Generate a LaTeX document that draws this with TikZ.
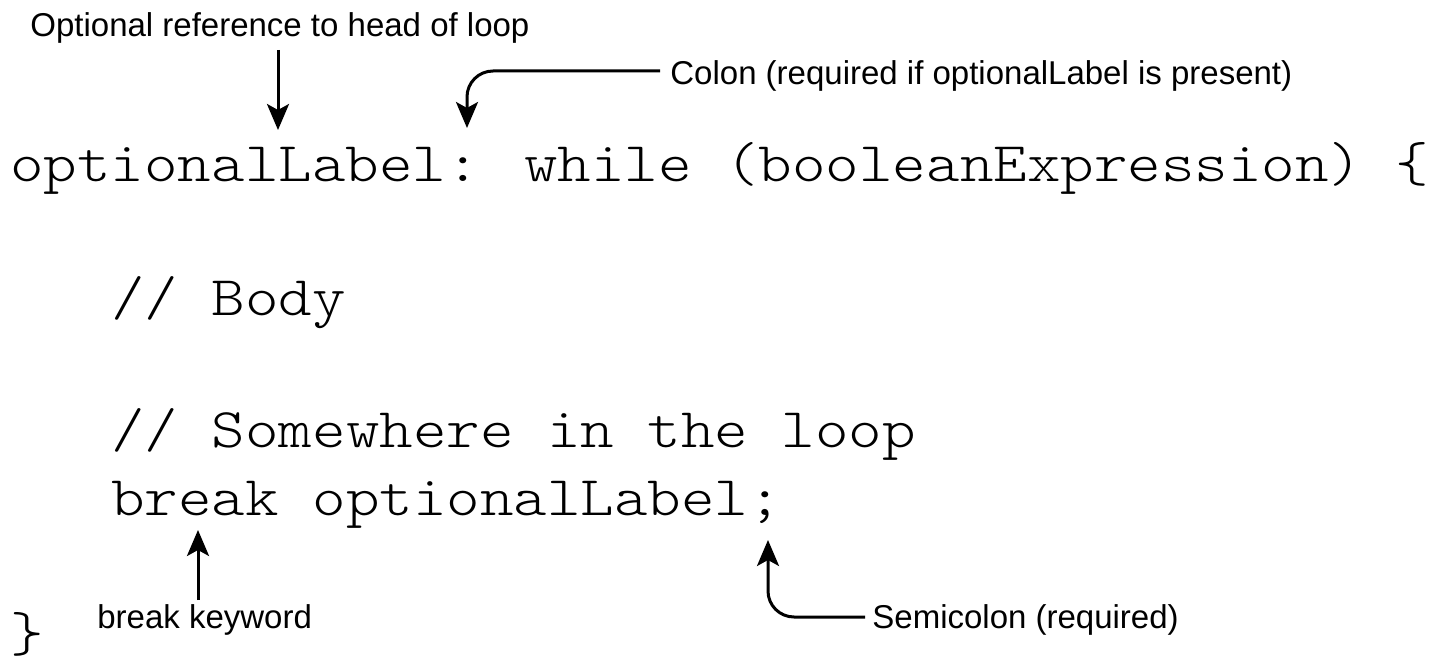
\documentclass[tikz,border=0pt]{standalone}
\usepackage{fontspec}
\setmainfont{Liberation Sans}
\newfontfamily\codefont{lmmonolt10-regular}[Extension=.otf, FakeStretch=1.14]
\newfontfamily\labelfont{Liberation Sans}
\usetikzlibrary{arrows.meta}
\begin{document}
\begin{tikzpicture}[x=0.5pt,y=-0.5pt,
  code/.style={font=\codefont\fontsize{28pt}{30pt}\selectfont, inner sep=0pt, anchor=base west},
  lab/.style={font=\labelfont\fontsize{16.5pt}{18pt}\selectfont, inner sep=0pt, anchor=base west},
  arr/.style={line width=1.5pt, -{Stealth[length=13pt,width=11pt,inset=3pt]}},
  curvedarr/.style={arr, rounded corners=13pt}]
\useasboundingbox (0,0) rectangle (1442,668);
% code
\node[code] (c1) at (10,182) {optionalLabel: while (booleanExpression) \{};
\node[code] (c2) at (111,316) {// Body};
\node[code] (c3) at (111,448) {// Somewhere in the loop};
\node[code] (c4) at (111,516) {break optionalLabel;};
\node[code] (c5) at (10,651) {\}};
% labels
\node[lab] (l1) at (30,37) {Optional reference to head of loop};
\node[lab] (l2) at (670,85) {Colon (required if optionalLabel is present)};
\node[lab] (l3) at (97,628) {break keyword};
\node[lab] (l4) at (872,628) {Semicolon (required)};
% arrow anchors
\coordinate (s1) at (278,50);
\coordinate (t1) at (278,130);
\coordinate (s2) at (660,71);
\coordinate (t2) at (467,128);
\coordinate (s3) at (198,600);
\coordinate (t3) at (198,530);
\coordinate (s4) at (865,617);
\coordinate (t4) at (768,540);
% connectors
\draw[arr] (s1) -- (t1);
\draw[curvedarr] (s2) -| (t2);
\draw[arr] (s3) -- (t3);
\draw[curvedarr] (s4) -| (t4);
\end{tikzpicture}
\end{document}
